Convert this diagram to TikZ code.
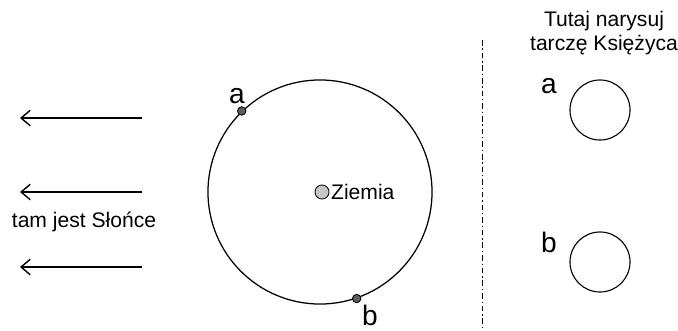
\documentclass[tikz,border=0pt]{standalone}
\usepackage{fontspec}
\setmainfont{Liberation Sans}
\usetikzlibrary{arrows.meta,calc}

\begin{document}
\begin{tikzpicture}[x=0.025cm,y=-0.025cm,>={Straight Barb[length=6.5pt,width=11pt]},font=\fontsize{15}{17.7}\selectfont]
			\tikzstyle{orbit}=[circle,draw,line width=0.9pt,inner sep=0pt,minimum size=5.6cm]
			\tikzstyle{moon}=[circle,draw,line width=0.8pt,inner sep=0pt,minimum size=1.5cm]
			\tikzstyle{moonpos}=[circle,draw,line width=0.6pt,fill=gray!60!black!90,inner sep=0pt,minimum size=6pt]
			\tikzstyle{ray}=[->,line width=1pt]
			\tikzstyle{letter}=[font=\fontsize{20}{24}\selectfont, inner sep=0pt]

			\useasboundingbox (0,0) rectangle (678,330);

			% orbita i Ziemia
			\node (O) [orbit] at (320,192) {};
			\node (E) [circle, draw, line width=0.6pt, fill=gray!45, inner sep=0pt, minimum size=10pt] at (322,192) {};
			\node (Ez) [anchor=west, inner sep=1pt] at (E.east) {Ziemia};

			\node (A) [moonpos] at (O.134) {};
			\node (B) [moonpos] at (O.-71) {};
			\node (la) [letter] at (237,96) {a};
			\node (lb) [letter] at (370,315) {b};

			% promienie Slonca
			\coordinate (s1) at (142,118); \coordinate (e1) at (20,118);
			\coordinate (s2) at (142,192); \coordinate (e2) at (20,192);
			\coordinate (s3) at (142,267); \coordinate (e3) at (20,267);
			\draw [ray] (s1) -- (e1);
			\draw [ray] (s2) -- (e2);
			\draw [ray] (s3) -- (e3);
			\node (sun) at (84,222) {tam jest Słońce};

			% linia podzialu
			\coordinate (d1) at (482,40);
			\coordinate (d2) at (482,330);
			\draw [line width=0.5pt, dash pattern=on 4pt off 2pt on 1pt off 2pt] (d1) -- (d2);

			% tarcze Ksiezyca
			\node (title) [align=center] at (604,33) {Tutaj narysuj\\tarczę Księżyca};
			\node (Ma) [moon] at (600,110) {};
			\node (Mb) [moon] at (600,262) {};
			\node (ma) [letter] at (549,86) {a};
			\node (mb) [letter] at (549,242) {b};
		\end{tikzpicture}
\end{document}
